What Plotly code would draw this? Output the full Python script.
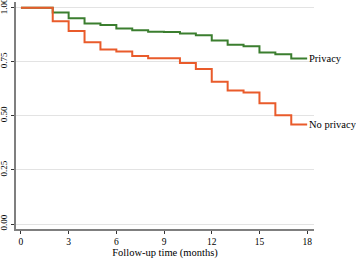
import plotly.graph_objects as go

months = [0, 2, 3, 4, 5, 6, 7, 8, 9, 10, 11, 12, 13, 14, 15, 16, 17, 18]
privacy = [1.0, 0.978, 0.951, 0.927, 0.920, 0.904, 0.895, 0.888, 0.887, 0.880, 0.872,
           0.848, 0.828, 0.821, 0.793, 0.784, 0.765, 0.765]
no_privacy = [1.0, 0.937, 0.892, 0.840, 0.807, 0.797, 0.777, 0.766, 0.766, 0.744, 0.716,
              0.657, 0.617, 0.608, 0.558, 0.503, 0.460, 0.460]
x_ticks = [0, 3, 6, 9, 12, 15, 18]
y_ticks = [0, 0.25, 0.5, 0.75, 1.0]
y_tick_labels = ["0.00", "0.25", "0.50", "0.75", "1.00"]
series_labels = ["Privacy", "No privacy"]

green = "#3B7E2F"
orange = "#E95B2B"
font = "Liberation Serif"

fig = go.Figure()
fig.add_trace(go.Scatter(x=months, y=privacy, mode="lines", line=dict(shape="hv", color=green, width=2),
                         name=series_labels[0]))
fig.add_trace(go.Scatter(x=months, y=no_privacy, mode="lines", line=dict(shape="hv", color=orange, width=2),
                         name=series_labels[1]))

for lab, ys in zip(series_labels, [privacy, no_privacy]):
    fig.add_annotation(x=months[-1], y=ys[-1], text=lab, showarrow=False, xanchor="left",
                       yanchor="middle", xshift=0, font=dict(family=font, size=10.5, color="black"))

fig.update_layout(
    width=356, height=259,
    margin=dict(l=16, r=42, t=2, b=30, autoexpand=False),
    paper_bgcolor="white", plot_bgcolor="white",
    showlegend=False,
    font=dict(family=font, size=10, color="black"),
)
fig.update_xaxes(
    range=[-0.31, 18.43], tickvals=x_ticks, showgrid=False, zeroline=False, automargin=False,
    showline=True, linecolor="#7f7f7f", linewidth=2,
    ticks="outside", ticklen=3, tickcolor="#333333", tickwidth=1,
    title=dict(text="Follow-up time (months)", font=dict(family=font, size=10.5), standoff=2),
    tickfont=dict(family=font, size=9.5), ticklabeloverflow="allow",
)
fig.update_yaxes(
    range=[-0.023, 1.026], tickvals=y_ticks, ticktext=y_tick_labels, tickangle=-90,
    showgrid=True, gridcolor="#e3e3e3", gridwidth=1, zeroline=False, automargin=False,
    showline=True, linecolor="#7f7f7f", linewidth=2,
    ticks="outside", ticklen=3, tickcolor="#333333", tickwidth=1,
    tickfont=dict(family=font, size=9), ticklabeloverflow="allow",
)

fig.write_html("out.html", config={"displayModeBar": False},
               post_script=["document.body.style.margin='0px';"])
